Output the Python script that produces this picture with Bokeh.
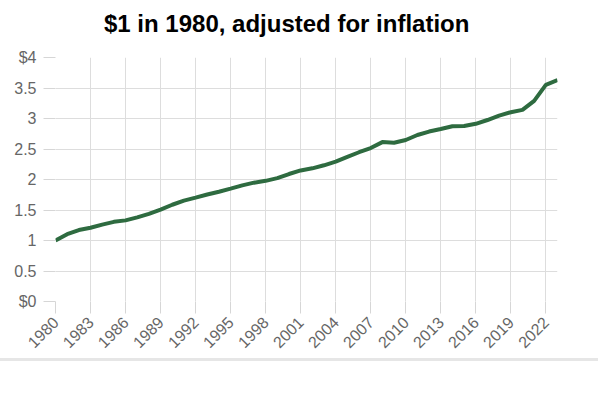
from bokeh.plotting import figure
from bokeh.models import FixedTicker, Div
from bokeh.layouts import column
from bokeh.embed import file_html
from bokeh.resources import INLINE
import math

title_text = "$1 in 1980, adjusted for inflation"
years = list(range(1980, 2024))
values = [1.000, 1.103, 1.171, 1.209, 1.261, 1.306, 1.330, 1.379, 1.436, 1.505,
          1.586, 1.653, 1.703, 1.754, 1.799, 1.850, 1.904, 1.948, 1.978, 2.022,
          2.090, 2.149, 2.183, 2.233, 2.292, 2.370, 2.447, 2.516, 2.613, 2.603,
          2.647, 2.729, 2.786, 2.828, 2.873, 2.876, 2.913, 2.975, 3.047, 3.103,
          3.141, 3.289, 3.552, 3.630]
x_ticks = list(range(1980, 2023, 3))
y_ticks = [0, 0.5, 1, 1.5, 2, 2.5, 3, 3.5, 4]
y_tick_labels = ["$0", "0.5", "1", "1.5", "2", "2.5", "3", "3.5", "$4"]

title_div = Div(
    text=('<div style="font-family:\'Liberation Sans\',Arial,sans-serif;font-size:24px;'
          'font-weight:bold;color:#000;line-height:24px;padding:12px 0 0 104px;'
          'margin:0;white-space:nowrap;">' + title_text + '</div>'),
    width=598, height=40, margin=0, disable_math=True)

p = figure(width=598, height=318, output_backend="svg", toolbar_location=None,
           x_range=(1980, 2023), y_range=(0, 4),
           min_border_left=55, min_border_right=41, min_border_top=17, min_border_bottom=57)
p.outline_line_color = None

p.line(years, values, line_width=4, line_color="#2e6b40")

grid_c = "#dddddd"
for ax in (p.xaxis[0], p.yaxis[0]):
    ax.axis_line_color = None
    ax.major_tick_line_color = "#d6d6d6"
    ax.major_tick_out = 12
    ax.major_tick_in = 0
    ax.minor_tick_line_color = None
    ax.major_label_text_font = "Liberation Sans"
    ax.major_label_text_font_size = "16px"
    ax.major_label_text_color = "#666666"

p.xaxis.major_label_standoff = 6
p.yaxis.major_label_standoff = 7
p.xaxis.ticker = FixedTicker(ticks=x_ticks)
p.xaxis.major_label_orientation = math.pi / 4
p.yaxis.ticker = FixedTicker(ticks=y_ticks)
p.yaxis.major_label_overrides = {t: l for t, l in zip(y_ticks, y_tick_labels)}

p.xgrid.grid_line_color = grid_c
p.ygrid.grid_line_color = grid_c
p.xgrid.ticker = FixedTicker(ticks=x_ticks)
p.ygrid.ticker = FixedTicker(ticks=y_ticks)

bar = Div(text="", width=598, height=3, margin=0, styles={"background-color": "#e6e6e6"})

layout = column(title_div, p, bar, spacing=0)
open("out.html", "w").write(file_html(layout, INLINE))
